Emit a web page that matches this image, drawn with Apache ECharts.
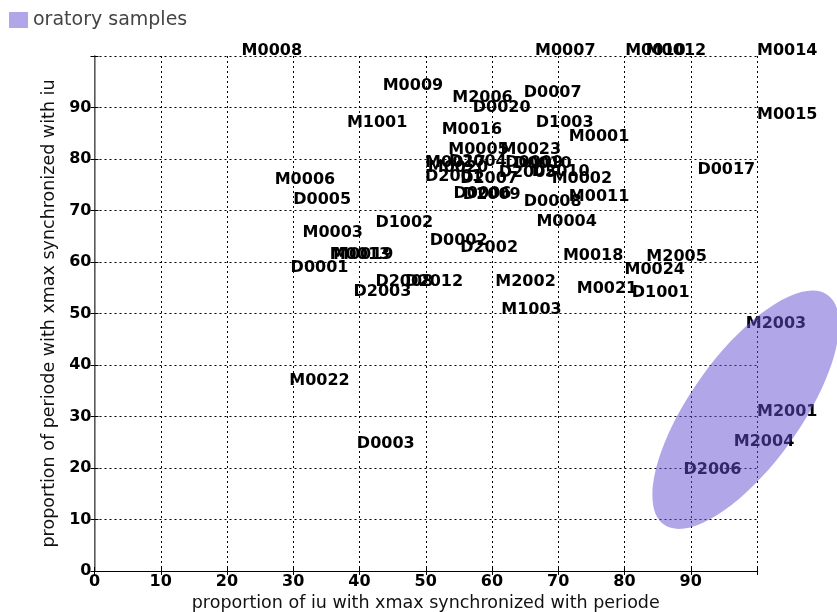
<!DOCTYPE html>
<html>
<head>
<meta charset="utf-8">
<script src="https://cdn.jsdelivr.net/npm/echarts@6/dist/echarts.min.js"></script>
<style>html,body{margin:0;padding:0;background:#fff}#c{width:837px;height:612px}</style>
</head>
<body>
<div id="c"></div>
<script>
const names = ["M0008","M0007","M0010","M0012","M0014","M0015","M0009","M2006","D0007","D0020",
  "M1001","D1003","M0016","M0001","M0005","M0023","M0017","M0020","D2004","D0009",
  "D0010","D2005","D2010","D2001","D2007","M0002","D0006","D2009","D0008","M0011",
  "D0017","M0006","D0005","D1002","M0003","M0004","D0002","D2002","M0013","M0019",
  "M0018","M2005","D0001","M0024","D2008","D2012","M2002","D2003","M0021","D1001",
  "M1003","M2003","M0022","M2001","M2004","D0003","D2006"];
const xs = [22.2,66.5,80.1,83.2,100,100,43.5,54.0,64.8,57.1,
  38.1,66.6,52.4,71.6,53.4,61.3,49.9,50.3,53.5,62.0,
  63.3,61.0,66.0,49.9,55.2,69.0,54.2,55.6,64.8,71.6,
  91.0,27.2,30.0,42.4,31.4,66.7,50.6,55.2,35.5,36.0,
  70.7,83.3,29.6,80.0,42.4,46.9,60.5,39.1,72.8,81.1,
  61.4,98.3,29.4,100,96.5,39.6,88.9];
const ys = [100,100,100,100,100,87.6,93.2,90.9,91.8,89.0,
  86.0,86.0,84.7,83.4,80.8,80.8,78.2,77.3,78.4,78.3,
  78.0,76.4,76.6,75.5,75.2,75.1,72.2,72.0,70.7,71.7,
  76.9,75.0,71.1,66.7,64.7,66.9,63.1,61.8,60.4,60.4,
  60.3,60.0,57.8,57.5,55.2,55.2,55.2,53.3,53.8,53.0,
  49.7,47.1,35.9,30.0,24.1,23.8,18.6];
const xName = "proportion of iu with xmax synchronized with periode";
const yName = "proportion of periode with xmax synchronized with iu";
const legendText = "oratory samples";
const groupCenter = [98.3, 31.3];

const chart = echarts.init(document.getElementById('c'));
const FONT = 'DejaVu Sans';
const axisCommon = {
  type: 'value', min: 0, max: 100, interval: 10,
  axisTick: {show: true, inside: true, length: 4, lineStyle: {color: '#000'}},
};
const tickLabel = {color: '#000', fontSize: 16, fontWeight: 'bold', fontFamily: FONT, margin: 3,
  formatter: v => v === 100 ? '' : v};
const grid = {show: true, lineStyle: {color: '#000', type: [2, 3], width: 1}};
const nameStyle = {color: '#111', fontSize: 17.5, fontFamily: FONT};
chart.setOption({
  animation: false,
  grid: {left: 94.5, right: 80, top: 56, bottom: 41, outerBoundsMode: 'none', containLabel: false},
  xAxis: [Object.assign({}, axisCommon, {
    position: 'bottom',
    axisLine: {show: true, lineStyle: {color: '#000', width: 1}},
    axisLabel: tickLabel, splitLine: grid,
    name: xName, nameLocation: 'middle', nameGap: 22, nameTextStyle: nameStyle
  }), Object.assign({}, axisCommon, {
    position: 'top', axisLine: {show: true, lineStyle: {color: '#000', width: 1}},
    axisLabel: {show: false}, splitLine: {show: false}
  })],
  yAxis: [Object.assign({}, axisCommon, {
    position: 'left',
    axisLine: {show: true, lineStyle: {color: '#000', width: 1}},
    axisLabel: tickLabel, splitLine: grid,
    name: yName, nameLocation: 'middle', nameGap: 31, nameTextStyle: nameStyle
  }), Object.assign({}, axisCommon, {
    position: 'right', axisLine: {show: true, lineStyle: {color: '#777', width: 1.5}},
    axisLabel: {show: false}, splitLine: {show: false}
  })],
  series: [{
    type: 'scatter',
    xAxisIndex: 0, yAxisIndex: 0,
    symbol: 'circle', symbolSize: 0,
    itemStyle: {color: '#000', opacity: 1},
    emphasis: {disabled: true},
    data: xs.map((x, i) => [x, ys[i], names[i]]),
    label: {
      show: true, formatter: p => p.data[2],
      position: [0, 3], align: 'left', verticalAlign: 'bottom',
      color: '#000', fontSize: 16, fontWeight: 'bold', fontFamily: FONT
    },
    labelLayout: {hideOverlap: false}
  }]
});
const c = chart.convertToPixel({xAxisIndex: 0, yAxisIndex: 0}, groupCenter);
chart.setOption({
  graphic: [
    {type: 'ellipse', x: c[0], y: c[1], rotation: 54.5 * Math.PI / 180, z: 100,
     shape: {cx: 0, cy: 0, rx: 141, ry: 55},
     style: {fill: 'rgba(100,80,210,0.5)'}},
    {type: 'rect', left: 9, top: 12, z: 100, shape: {width: 19, height: 16},
     style: {fill: 'rgba(100,80,210,0.5)'}},
    {type: 'text', left: 33, top: 11, z: 100,
     style: {text: legendText, fill: '#444', fontSize: 19, fontFamily: FONT}}
  ]
});
</script>
</body>
</html>
